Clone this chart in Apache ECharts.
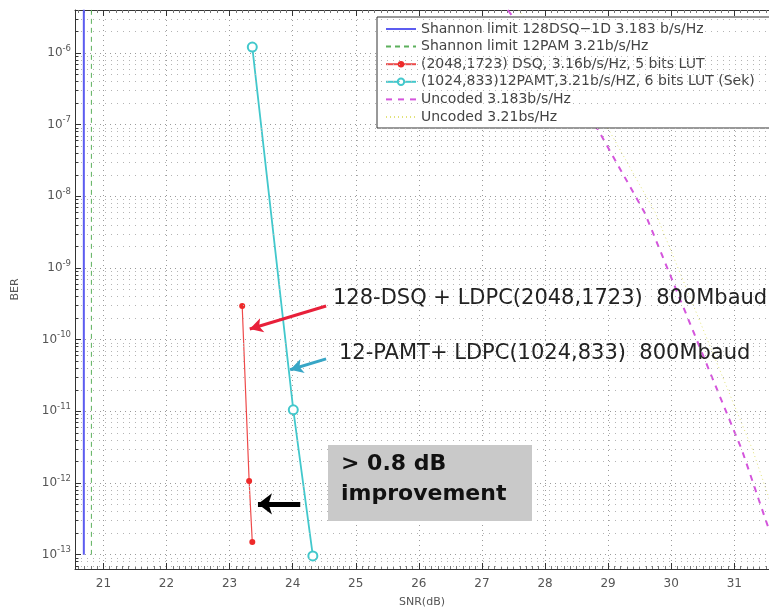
<!DOCTYPE html>
<html><head><meta charset="utf-8">
<script src="https://cdn.jsdelivr.net/npm/echarts@6/dist/echarts.min.js"></script>
<style>html,body{margin:0;padding:0;background:#fff}#c{width:769px;height:609px}</style>
</head><body><div id="c"></div>
<script>
// ---- data (SNR in dB, BER) ----
const seriesNames = [
  'Shannon limit 128DSQ\u22121D 3.183 b/s/Hz',
  'Shannon limit 12PAM 3.21b/s/Hz',
  '(2048,1723) DSQ, 3.16b/s/Hz, 5 bits LUT',
  '(1024,833)12PAMT,3.21b/s/HZ, 6 bits LUT (Sek)',
  'Uncoded 3.183b/s/Hz',
  'Uncoded 3.21bs/Hz'
];
const shannonDSQ = [[20.69, 4.0e-6], [20.69, 1e-13]];
const shannonPAM = [[20.81, 4.0e-6], [20.81, 1e-13]];
const codedDSQ   = [[23.20, 2.95e-10], [23.31, 1.07e-12], [23.36, 1.5e-13]];
const codedPAMT  = [[23.36, 1.21e-6], [24.01, 1.05e-11], [24.32, 9.6e-14]];
const uncoded3183 = [[27.41, 3.98e-6], [28.84, 8.5e-8], [29.58, 5.9e-9], [30.66, 2.8e-11], [31.12, 2.9e-12], [31.50, 3.0e-13], [31.62, 1.5e-13]];
const uncoded321  = [[27.58, 3.98e-6], [29.01, 8.5e-8], [29.75, 5.9e-9], [30.83, 2.8e-11], [31.29, 2.9e-12], [31.67, 3.0e-13]];
const xRange = [20.55, 31.55];
const yRange = [Math.pow(10, -13.2), Math.pow(10, -5.4)];
// annotation arrows: [tail, head] in (SNR, BER)
const arrowRed   = [[24.53, 2.95e-10], [23.32, 1.41e-10]];
const arrowCyan  = [[24.53, 5.4e-11], [23.96, 3.8e-11]];
const arrowBlack = [[24.12, 5.1e-13], [23.45, 5.1e-13]];
const annoText1 = '128-DSQ + LDPC(2048,1723)  800Mbaud';
const annoText2 = '12-PAMT+ LDPC(1024,833)  800Mbaud';
const boxText = ['> 0.8 dB', 'improvement'];

// minor log grid positions (2..9 x 10^d)
const minorY = [];
for (let d = -14; d <= -6; d++) for (let k = 2; k <= 9; k++) {
  const v = k * Math.pow(10, d);
  if (v > yRange[0] && v < yRange[1]) minorY.push(v);
}

const chart = echarts.init(document.getElementById('c'), null, {renderer: 'canvas'});
const gridDot = {color: '#9a9a9a', width: 1, type: [1, 4]};
const fontFam = 'DejaVu Sans';
const noSym = {color: 'rgba(0,0,0,0)', borderColor: 'rgba(0,0,0,0)', borderWidth: 0};

function arrowLine(pair, color, width, size) {
  return {
    silent: true, animation: false, symbol: ['none', 'arrow'], symbolSize: size,
    label: {show: false},
    lineStyle: {color: color, width: width, type: 'solid'},
    data: [[{coord: pair[0]}, {coord: pair[1]}]]
  };
}

const option = {
  animation: false,
  backgroundColor: '#fff',
  grid: {left: 75, right: 0, top: 10, bottom: 40, containLabel: false, outerBoundsMode: 'none'},
  xAxis: [{
    type: 'value', min: xRange[0], max: xRange[1], splitNumber: 11,
    name: 'SNR(dB)', nameLocation: 'middle', nameGap: 28,
    nameTextStyle: {fontFamily: fontFam, fontSize: 11, color: '#555'},
    axisLine: {lineStyle: {color: '#333', width: 1}},
    axisTick: {inside: true, length: 6, lineStyle: {color: '#333'}},
    minorTick: {show: true, splitNumber: 10, length: 3, lineStyle: {color: '#777'}},
    axisLabel: {fontFamily: fontFam, fontSize: 12, color: '#555', margin: 9, showMinLabel: false, showMaxLabel: false},
    splitLine: {show: true, lineStyle: gridDot}
  }, {
    type: 'value', min: xRange[0], max: xRange[1], splitNumber: 11, position: 'top',
    axisLine: {lineStyle: {color: '#333', width: 1}},
    axisTick: {inside: true, length: 6, lineStyle: {color: '#333'}},
    minorTick: {show: true, splitNumber: 10, length: 3, lineStyle: {color: '#777'}},
    axisLabel: {show: false}, splitLine: {show: false}
  }],
  yAxis: {
    type: 'log', logBase: 10, min: yRange[0], max: yRange[1],
    name: 'BER', nameLocation: 'middle', nameGap: 54,
    nameTextStyle: {fontFamily: fontFam, fontSize: 11, color: '#555'},
    axisLine: {lineStyle: {color: '#333', width: 1}},
    axisTick: {inside: true, length: 6, lineStyle: {color: '#333'}},
    axisLabel: {
      margin: 4, showMinLabel: false, showMaxLabel: false,
      formatter: function (v) {
        const e = Math.round(Math.log10(v));
        return '{b|10}{s|' + e + '}';
      },
      rich: {
        b: {fontFamily: fontFam, fontSize: 12, color: '#555', lineHeight: 18},
        s: {fontFamily: fontFam, fontSize: 8.5, color: '#555', lineHeight: 9, verticalAlign: 'top'}
      }
    },
    splitLine: {show: true, lineStyle: gridDot}
  },
  legend: {
    orient: 'vertical', left: 377, top: 17,
    padding: [5, 40, 4, 8], itemWidth: 30, itemHeight: 8, itemGap: 3.6,
    backgroundColor: '#fff', borderColor: '#333', borderWidth: 1, borderRadius: 0,
    selectedMode: false,
    textStyle: {fontFamily: fontFam, fontSize: 14, color: '#444', lineHeight: 14},
    data: [
      {name: seriesNames[0], itemStyle: noSym},
      {name: seriesNames[1], itemStyle: noSym},
      {name: seriesNames[2]},
      {name: seriesNames[3]},
      {name: seriesNames[4], itemStyle: noSym},
      {name: seriesNames[5], itemStyle: noSym}
    ]
  },
  series: [
    {
      name: seriesNames[0], type: 'line', data: shannonDSQ, symbol: 'none', z: 3,
      lineStyle: {color: '#5c5cf0', width: 2, type: 'solid'}, itemStyle: {color: '#5c5cf0'},
      markLine: {
        silent: true, animation: false, symbol: 'none', label: {show: false},
        lineStyle: {color: '#b4b4b4', width: 1, type: [1, 5]},
        data: minorY.map(v => [{coord: [xRange[0], v]}, {coord: [xRange[1], v]}])
      }
    },
    {
      name: seriesNames[1], type: 'line', data: shannonPAM, symbol: 'none', z: 3,
      lineStyle: {color: '#5cb05c', width: 1, type: [5, 4]}, itemStyle: {color: '#5cb05c'},
      markLine: {
        silent: true, animation: false, symbol: 'none', label: {show: false},
        lineStyle: {color: '#333', width: 1, type: 'solid'},
        data: minorY.map(v => [{coord: [xRange[0], v]}, {coord: [xRange[0] + 0.055, v]}])
      }
    },
    {
      name: seriesNames[2], type: 'line', data: codedDSQ, symbol: 'circle', symbolSize: 6, z: 4,
      lineStyle: {color: '#ee4a4a', width: 1.2}, itemStyle: {color: '#ee2a2a'},
      markLine: arrowLine(arrowRed, '#e8203a', 3, [11, 13])
    },
    {
      name: seriesNames[3], type: 'line', data: codedPAMT, symbol: 'emptyCircle', symbolSize: 9, z: 4,
      lineStyle: {color: '#42c8cc', width: 1.8}, itemStyle: {color: '#42c8cc', borderWidth: 1.5},
      markLine: arrowLine(arrowCyan, '#38a6c6', 3, [11, 13])
    },
    {
      name: seriesNames[4], type: 'line', data: uncoded3183, symbol: 'none', z: 3,
      lineStyle: {color: '#d455dc', width: 2, type: [6, 6]}, itemStyle: {color: '#d455dc'},
      markLine: arrowLine(arrowBlack, '#000', 5, [16, 14])
    },
    {
      name: seriesNames[5], type: 'line', data: uncoded321, symbol: 'none', z: 3,
      lineStyle: {color: '#e2e27a', width: 1, type: [1, 3]}, itemStyle: {color: '#e2e27a'}
    }
  ],
  graphic: [
    {type: 'text', left: 333, top: 288, z: 10,
     style: {text: annoText1, fontFamily: fontFam, fontSize: 21, fill: '#222'}},
    {type: 'text', left: 339, top: 343, z: 10,
     style: {text: annoText2, fontFamily: fontFam, fontSize: 21, fill: '#222'}},
    {type: 'rect', z: 10, shape: {x: 328, y: 445, width: 204, height: 76}, style: {fill: '#c9c9c9'}},
    {type: 'text', left: 341, top: 453, z: 11,
     style: {text: boxText[0], fontFamily: fontFam, fontSize: 22, fontWeight: 'bold', fill: '#111'}},
    {type: 'text', left: 341, top: 483, z: 11,
     style: {text: boxText[1], fontFamily: fontFam, fontSize: 22, fontWeight: 'bold', fill: '#111'}}
  ]
};
chart.setOption(option);
</script></body></html>
